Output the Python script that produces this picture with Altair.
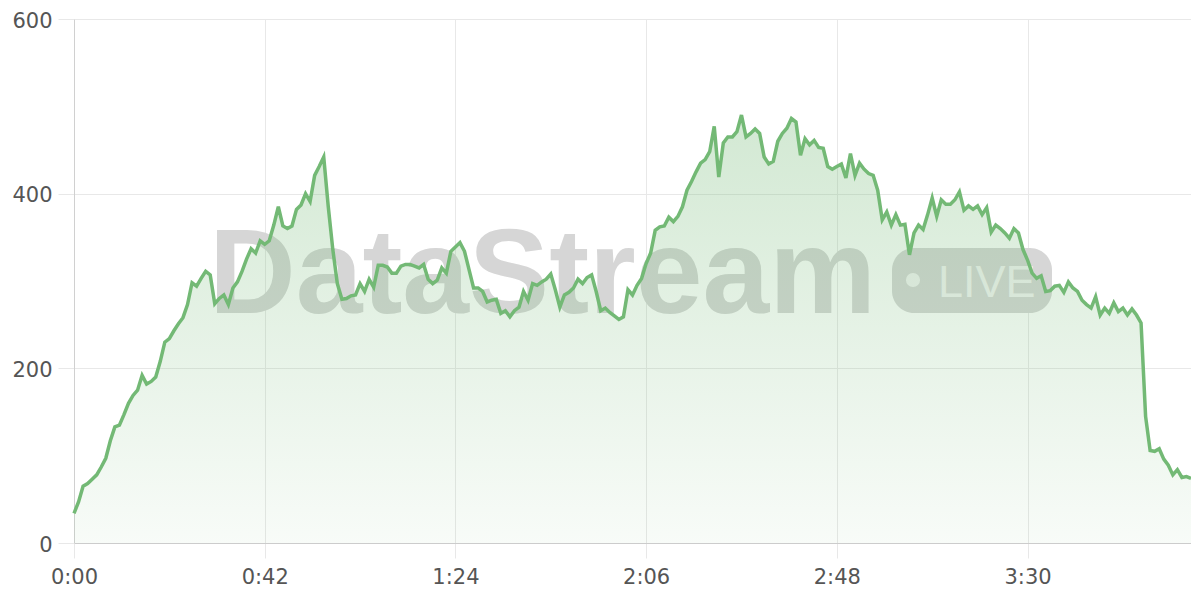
import altair as alt
import pandas as pd

# minutes since start (one sample per minute)
values = [
    34, 47, 65, 68, 73, 78, 87, 97, 117, 133,
    135, 147, 160, 169, 175, 192, 182, 185, 190, 208,
    230, 234, 243, 251, 258, 273, 298, 294, 303, 311,
    307, 274, 280, 284, 273, 292, 299, 311, 325, 337,
    332, 346, 342, 346, 364, 385, 363, 360, 363, 382,
    387, 400, 391, 421, 431, 442, 385, 336, 297, 279,
    280, 283, 284, 297, 288, 302, 293, 318, 318, 316,
    309, 309, 317, 319, 319, 317, 315, 319, 302, 297,
    301, 315, 309, 334, 339, 344, 334, 313, 292, 292,
    288, 276, 278, 279, 263, 266, 259, 266, 270, 288,
    278, 297, 295, 299, 302, 308, 290, 270, 284, 287,
    292, 302, 297, 304, 307, 288, 266, 269, 264, 260,
    256, 259, 290, 284, 295, 303, 320, 332, 358, 362,
    363, 373, 368, 374, 385, 404, 414, 425, 435, 439,
    448, 477, 419, 458, 465, 465, 471, 490, 465, 469,
    474, 469, 442, 434, 437, 460, 469, 475, 486, 482,
    444, 463, 456, 461, 453, 452, 431, 428, 431, 434,
    418, 446, 421, 435, 428, 423, 421, 404, 370, 379,
    364, 376, 364, 365, 330, 355, 364, 359, 376, 395,
    374, 393, 388, 388, 393, 402, 381, 386, 382, 386,
    376, 384, 356, 364, 360, 355, 349, 360, 355, 336,
    324, 309, 303, 306, 288, 289, 294, 295, 287, 299,
    292, 288, 278, 273, 269, 282, 261, 269, 263, 275,
    265, 269, 261, 268, 261, 252, 145, 106, 105, 108,
    96, 89, 78, 84, 75, 76, 74,
]
minutes = list(range(len(values)))
x_ticks = [0, 42, 84, 126, 168, 210]
y_ticks = [0, 200, 400, 600]
watermark_text = "DataStream"
badge_text = "LIVE"

df = pd.DataFrame({"t": minutes, "v": values})
one = pd.DataFrame({"k": [0]})

W, H = 1117, 524
GRID = "#e8e8e8"
LABEL = "#555555"
FONT = "DejaVu Sans"
WM_FONT = "Liberation Sans"

x_enc = alt.X(
    "t:Q",
    scale=alt.Scale(domain=[0, 246], nice=False, zero=False),
    axis=alt.Axis(
        values=x_ticks,
        labelExpr="floor(datum.value/60) + ':' + (datum.value%60 < 10 ? '0' : '') + (datum.value%60)",
        title=None,
        grid=True,
        gridColor=GRID,
        tickColor=GRID,
        tickSize=15,
        domainColor="#cccccc",
        labelFontSize=21,
        labelColor=LABEL,
        labelFont=FONT,
        labelPadding=8,
        labelFlush=False,
    ),
)
y_enc = alt.Y(
    "v:Q",
    scale=alt.Scale(domain=[0, 600], nice=False),
    axis=alt.Axis(
        values=y_ticks,
        title=None,
        grid=True,
        gridColor=GRID,
        tickColor=GRID,
        tickSize=16,
        domainColor="#d0d0d0",
        labelFontSize=21,
        labelColor=LABEL,
        labelFont=FONT,
        labelPadding=6,
        labelOffset=2,
        labelFlush=False,
    ),
)

gradient = alt.Gradient(
    gradient="linear",
    stops=[
        alt.GradientStop(color="rgba(116,185,118,0.32)", offset=0),
        alt.GradientStop(color="rgba(116,185,118,0.05)", offset=1),
    ],
    x1=1, x2=1, y1=0, y2=1,
)

wm = alt.Chart(one).mark_text(
    text=watermark_text, font=WM_FONT, fontWeight="bold", fontSize=120,
    align="left", baseline="alphabetic", color="#d6d6d6",
).encode(x=alt.value(135), y=alt.value(294))

pill = alt.Chart(one).mark_rect(cornerRadius=22, color="#d6d6d6").encode(
    x=alt.value(818), x2=alt.value(978), y=alt.value(229), y2=alt.value(294)
)
dot = alt.Chart(one).mark_point(
    filled=True, shape="circle", size=200, color="#f3f3f3", opacity=1
).encode(x=alt.value(839), y=alt.value(261))
live = alt.Chart(one).mark_text(
    text=badge_text, font=WM_FONT, fontSize=45, align="left",
    baseline="alphabetic", color="#f3f3f3",
).encode(x=alt.value(864), y=alt.value(278))

area = alt.Chart(df).mark_area(color=gradient).encode(x=x_enc, y=y_enc)
line = alt.Chart(df).mark_line(color="#73b975", strokeWidth=3.5).encode(x=x_enc, y=y_enc)

chart = alt.layer(wm, pill, dot, live, area, line).properties(
    width=W,
    height=H,
    autosize=alt.AutoSizeParams(type="none"),
    padding={"left": 66, "top": 11, "right": 0, "bottom": 48},
    background="white",
).configure_view(stroke=None)

chart.save("out.html", embed_options={"renderer": "svg", "actions": False})
